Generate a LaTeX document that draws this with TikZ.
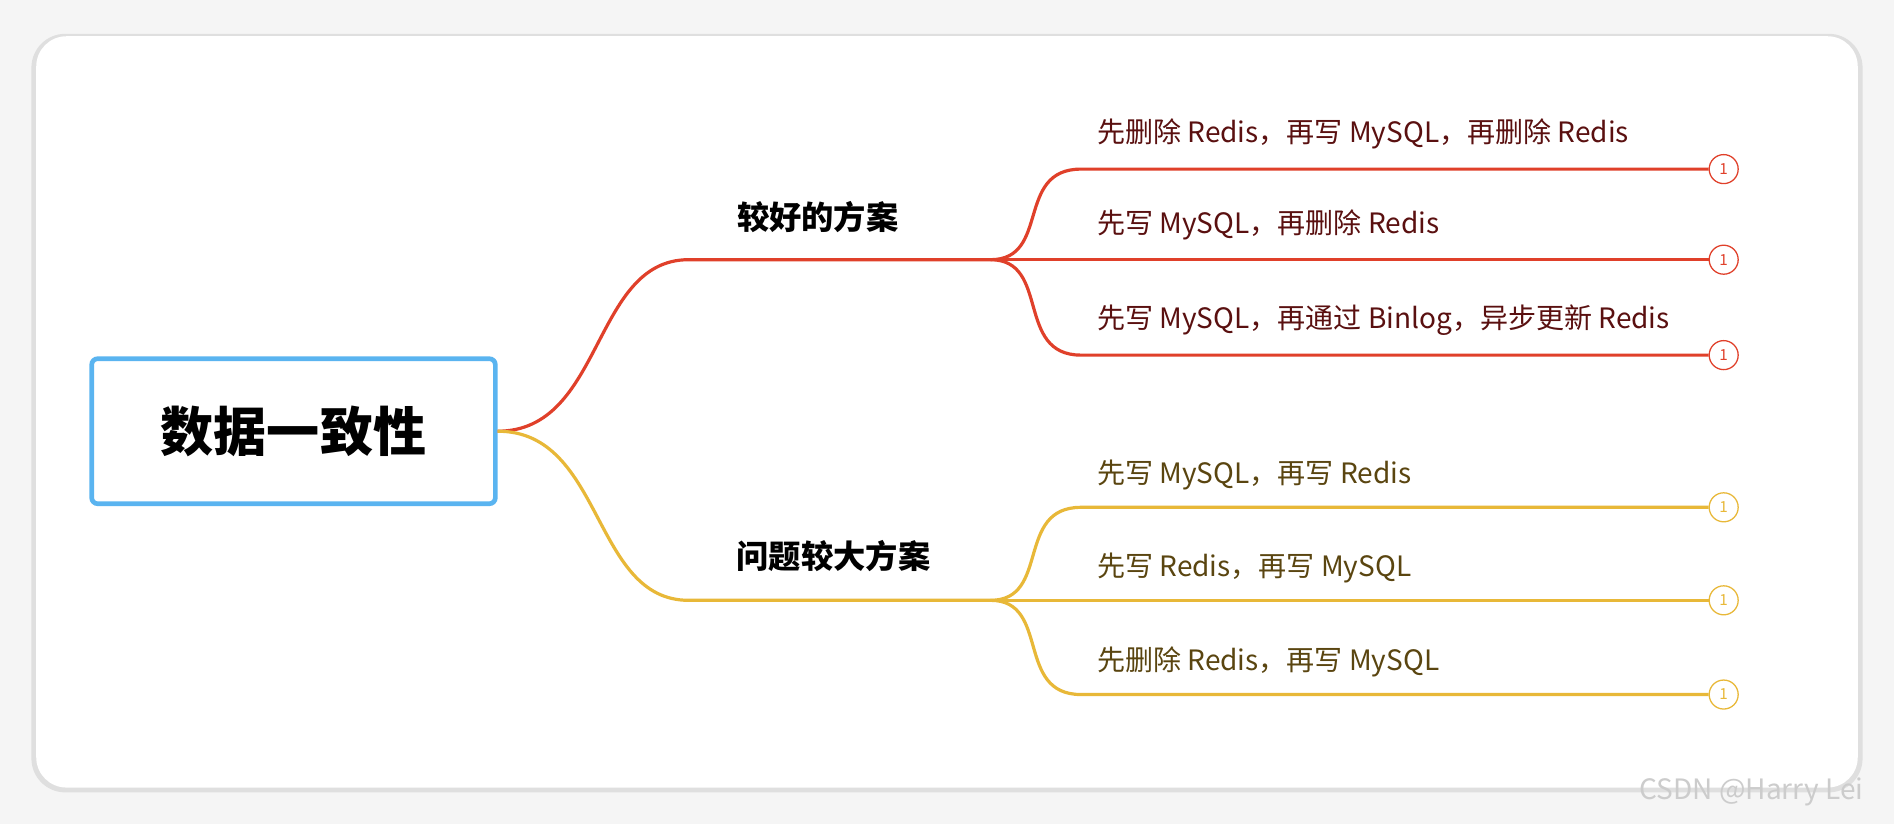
\documentclass[tikz,border=0pt]{standalone}
\usepackage{fontspec}
\setmainfont{Noto Sans CJK SC}
\usetikzlibrary{positioning}
\definecolor{redline}{HTML}{E0402A}
\definecolor{yelline}{HTML}{E8B838}
\definecolor{redtext}{HTML}{5A1010}
\definecolor{yeltext}{HTML}{5A4510}
\definecolor{rootblue}{HTML}{5AB4F0}
\tikzset{
  leaf/.style={anchor=west, font=\fontsize{6.6pt}{7pt}\selectfont, inner sep=0pt},
  badge/.style={circle, draw, fill=white, line width=0.3pt, minimum size=0.24cm, inner sep=0pt, font=\fontsize{3.6pt}{4pt}\selectfont},
  branch/.style={font=\bfseries\fontsize{7.6pt}{9pt}\selectfont, inner sep=0pt}
}
\begin{document}
\begin{tikzpicture}[x=0.01cm, y=-0.01cm, line width=0.75pt]
\useasboundingbox (0,0) rectangle (1568,682);
\fill[gray!8] (0,0) rectangle (1568,682);
\fill[gray!25, rounded corners=0.28cm] (26,28) rectangle (1542,656);
\fill[white, rounded corners=0.25cm] (30,30) rectangle (1538,652);
\node (wm) [text=gray!40, font=\fontsize{6.6pt}{8pt}\selectfont, inner sep=0pt] at (1450,656) {CSDN @Harry Lei};
% root
\node (root) [draw=rootblue, line width=1.1pt, rounded corners=0.05cm, minimum width=3.34cm, minimum height=1.2cm,
  font=\bfseries\fontsize{12.5pt}{14pt}\selectfont] at (243,357) {数据一致性};
% first level
\coordinate (g1) at (570,215);
\coordinate (g1e) at (820,215);
\coordinate (b1) at (570,497);
\coordinate (b1e) at (820,497);
\node (good) [branch] at (677,180) {较好的方案};
\node (bad) [branch] at (690,460) {问题较大方案};
\draw[redline] (root.east) .. controls (500,357) and (490,215) .. (g1) -- (g1e);
\draw[yelline] (root.east) .. controls (500,357) and (490,497) .. (b1) -- (b1e);
% leaves
\foreach \y/\name/\txt in {140/r1/{先删除 Redis，再写 MySQL，再删除 Redis},
                          215/r2/{先写 MySQL，再删除 Redis},
                          294/r3/{先写 MySQL，再通过 Binlog，异步更新 Redis}}{
  \node (\name m) [badge, draw=redline, text=redline] at (1427,\y) {1};
  \node (\name) [leaf, text=redtext] at (907,\y-29) {\txt};
  \draw[redline] (g1e) .. controls (870,215) and (840,\y) .. (895,\y) -- (\name m.west);
}
\foreach \y/\name/\txt in {420/y1/{先写 MySQL，再写 Redis},
                          497/y2/{先写 Redis，再写 MySQL},
                          575/y3/{先删除 Redis，再写 MySQL}}{
  \node (\name m) [badge, draw=yelline, text=yelline] at (1427,\y) {1};
  \node (\name) [leaf, text=yeltext] at (907,\y-27) {\txt};
  \draw[yelline] (b1e) .. controls (870,497) and (840,\y) .. (895,\y) -- (\name m.west);
}
\end{tikzpicture}
\end{document}
